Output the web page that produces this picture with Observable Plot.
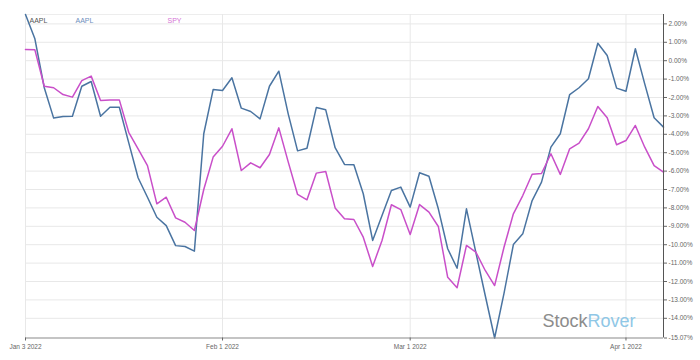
<!DOCTYPE html>
<html><head><meta charset="utf-8">
<script src="https://cdn.jsdelivr.net/npm/d3@7"></script>
<script src="https://cdn.jsdelivr.net/npm/@observablehq/plot@0.6"></script>
<style>body{margin:0;background:#fff}</style>
</head><body><div id="chart"></div>
<script>
const dates = [
"2022-01-03","2022-01-04","2022-01-05","2022-01-06","2022-01-07","2022-01-10","2022-01-11","2022-01-12","2022-01-13","2022-01-14",
"2022-01-17","2022-01-18","2022-01-19","2022-01-20","2022-01-21","2022-01-24","2022-01-25","2022-01-26","2022-01-27","2022-01-28",
"2022-01-31","2022-02-01","2022-02-02","2022-02-03","2022-02-04","2022-02-07","2022-02-08","2022-02-09","2022-02-10","2022-02-11",
"2022-02-14","2022-02-15","2022-02-16","2022-02-17","2022-02-18","2022-02-21","2022-02-22","2022-02-23","2022-02-24","2022-02-25",
"2022-02-28","2022-03-01","2022-03-02","2022-03-03","2022-03-04","2022-03-07","2022-03-08","2022-03-09","2022-03-10","2022-03-11",
"2022-03-14","2022-03-15","2022-03-16","2022-03-17","2022-03-18","2022-03-21","2022-03-22","2022-03-23","2022-03-24","2022-03-25",
"2022-03-28","2022-03-29","2022-03-30","2022-03-31","2022-04-01","2022-04-04","2022-04-05","2022-04-06","2022-04-07"];
const aapl = [2.51,1.19,-1.47,-3.12,-3.03,-3.02,-1.39,-1.13,-3.02,-2.53,
-2.53,-4.45,-6.36,-7.42,-8.51,-8.96,-10.05,-10.10,-10.35,-3.97,
-1.57,-1.62,-0.93,-2.58,-2.76,-3.16,-1.39,-0.57,-2.89,-4.90,
-4.76,-2.54,-2.67,-4.73,-5.64,-5.66,-7.23,-9.77,-8.41,-7.05,
-6.87,-7.96,-6.09,-6.28,-8.05,-10.22,-11.28,-8.05,-10.42,-12.76,
-15.07,-12.64,-9.99,-9.41,-7.60,-6.60,-4.70,-3.97,-1.84,-1.47,
-0.98,0.95,0.28,-1.49,-1.66,0.65,-1.26,-3.10,-3.61];
const spy = [0.61,0.59,-1.39,-1.47,-1.84,-1.98,-1.08,-0.84,-2.16,-2.13,
-2.13,-3.89,-4.79,-5.70,-7.78,-7.42,-8.54,-8.78,-9.23,-7.00,
-5.24,-4.65,-3.70,-5.97,-5.55,-5.82,-5.10,-3.65,-5.50,-7.27,
-7.56,-6.11,-6.02,-8.00,-8.59,-8.63,-9.59,-11.18,-9.77,-7.83,
-8.09,-9.45,-7.82,-8.23,-9.01,-11.77,-12.34,-10.04,-10.40,-11.40,
-12.22,-10.14,-8.32,-7.33,-6.17,-6.13,-5.06,-6.18,-4.79,-4.48,
-3.70,-2.49,-3.10,-4.57,-4.34,-3.52,-4.70,-5.70,-6.06];
const seriesNames = ["AAPL","SPY"];
const seriesColors = ["#4a74a1","#c94fc9"];
const legendColors = ["#6e8fbd","#d572d5"];
const symbolLabel = "AAPL";
const tickDates = ["2022-01-03","2022-02-01","2022-03-01","2022-04-01"];
const tickLabels = ["Jan 3 2022","Feb 1 2022","Mar 1 2022","Apr 1 2022"];
const yTicks = [2,1,0,-1,-2,-3,-4,-5,-6,-7,-8,-9,-10,-11,-12,-13,-14];
const brand = ["Stock","Rover"];

// position along the axis = trading-session index of each date
const rows = [];
dates.forEach((d,i)=>{
  rows.push({idx:i, date:d, series:seriesNames[0], value:aapl[i]});
  rows.push({idx:i, date:d, series:seriesNames[1], value:spy[i]});
});
const tickIdx = tickDates.map(d => dates.indexOf(d));
const all = aapl.concat(spy);
const yMin = d3.min(all), yMax = d3.max(all);
const yTicksAll = yTicks.concat([yMin]);
const font = "'Liberation Sans', Arial, Helvetica, sans-serif";

const chart = Plot.plot({
  width:700, height:360,
  marginLeft:25, marginRight:37, marginTop:14, marginBottom:22.5,
  style:{fontFamily:font, background:"#fff"},
  x:{domain:[0, dates.length-1]},
  y:{domain:[yMin,yMax]},
  color:{domain:seriesNames, range:seriesColors},
  marks:[
    Plot.gridY(yTicks, {stroke:"#e8e8e8", strokeOpacity:1}),
    Plot.ruleY([yMax], {stroke:"#ededed"}),
    Plot.gridX(tickIdx, {stroke:"#e8e8e8", strokeOpacity:1}),
    Plot.text([symbolLabel], {frameAnchor:"top-left", dx:4, dy:6, text:d=>d, fill:"#555", fontSize:7, textAnchor:"start", lineAnchor:"middle"}),
    Plot.text([seriesNames[0]], {frameAnchor:"top-left", dx:50, dy:6, text:d=>d, fill:legendColors[0], fontSize:7, textAnchor:"start", lineAnchor:"middle"}),
    Plot.text([seriesNames[1]], {frameAnchor:"top-left", dx:142, dy:6, text:d=>d, fill:legendColors[1], fontSize:7, textAnchor:"start", lineAnchor:"middle"}),
    Plot.text([brand[0]], {frameAnchor:"bottom-right", dx:-76, dy:-11.5, text:d=>d, fill:"#8c8c8c", fontSize:18, textAnchor:"end", lineAnchor:"bottom"}),
    Plot.text([brand[1]], {frameAnchor:"bottom-right", dx:-76, dy:-11.5, text:d=>d, fill:"#8fc7e6", fontSize:18, textAnchor:"start", lineAnchor:"bottom"}),
    Plot.line(rows, {x:"idx", y:"value", stroke:"series", strokeWidth:1.5}),
    Plot.ruleY([yMin], {stroke:"#8a8a8a", strokeWidth:1.2}),
    Plot.ruleX([dates.length-1], {stroke:"#555"}),
    Plot.axisY(yTicksAll, {anchor:"right", tickSize:3, tickPadding:2, tickFormat:d=>d.toFixed(2)+"%", fontSize:6.5, color:"#666", label:null}),
    Plot.axisX(tickIdx, {anchor:"bottom", tickSize:3, tickPadding:3, tickFormat:d=>tickLabels[tickIdx.indexOf(d)], fontSize:6.5, color:"#666", label:null})
  ]
});
document.getElementById("chart").appendChild(chart);
</script>
</body></html>
